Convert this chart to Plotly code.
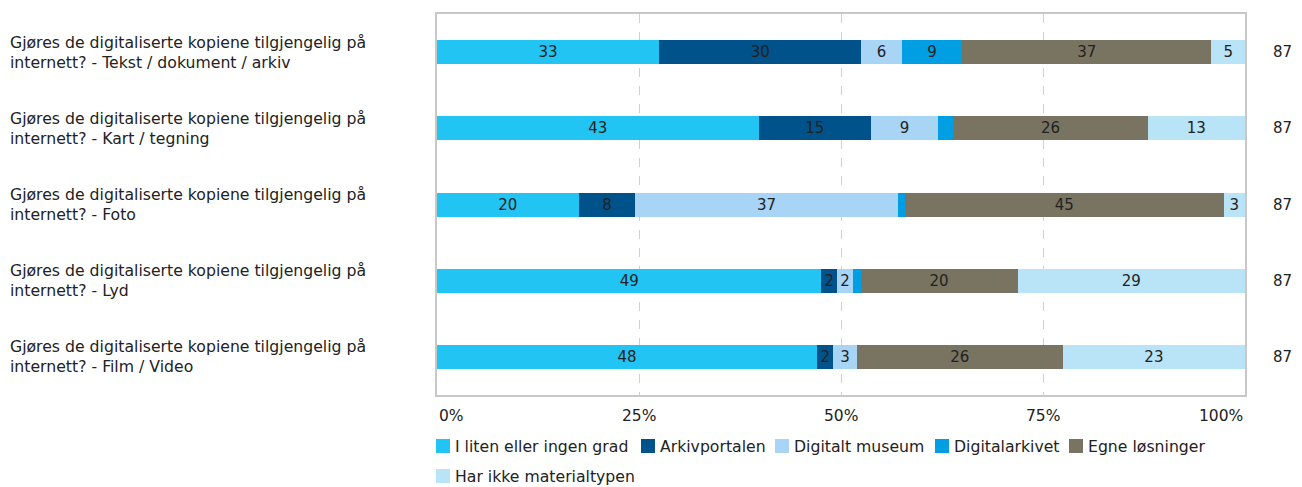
import plotly.graph_objects as go

# Spørsmål (y-kategorier)
questions = [
    'Gjøres de digitaliserte kopiene tilgjengelig på<br>internett? - Tekst / dokument / arkiv',
    'Gjøres de digitaliserte kopiene tilgjengelig på<br>internett? - Kart / tegning',
    'Gjøres de digitaliserte kopiene tilgjengelig på<br>internett? - Foto',
    'Gjøres de digitaliserte kopiene tilgjengelig på<br>internett? - Lyd',
    'Gjøres de digitaliserte kopiene tilgjengelig på<br>internett? - Film / Video',
]
keys = ['Tekst', 'Kart', 'Foto', 'Lyd', 'Film']

# Antall svar per alternativ
liten = [33, 43, 20, 49, 48]
arkivportalen = [30, 15, 8, 2, 2]
digitalt_museum = [6, 9, 37, 2, 3]
digitalarkivet = [9, 2, 1, 1, 0]
egne = [37, 26, 45, 20, 26]
har_ikke = [5, 13, 3, 29, 23]

n_total = [87, 87, 87, 87, 87]

tick_vals = [0, 0.25, 0.5, 0.75, 1]
tick_text = ['0%', '25%', '50%', '75%', '100%']

series = [
    ('I liten eller ingen grad', liten, '#21c4f3'),
    ('Arkivportalen', arkivportalen, '#00538a'),
    ('Digitalt museum', digitalt_museum, '#a8d4f5'),
    ('Digitalarkivet', digitalarkivet, '#009fe3'),
    ('Egne løsninger', egne, '#787461'),
    ('Har ikke materialtypen', har_ikke, '#b9e4f8'),
]

font = 'DejaVu Sans'
txt_col = '#222222'

# siden har 8px body-marg, så figuren tegnes forskjøvet
OFF = 8
FW, FH = 1302 - OFF, 487 - OFF
# plot-område i sidepiksler
L, T, W, H = 437, 14, 808, 381


def px(xp):
    return (xp - L) / W


def py(yp):
    return (T + H - yp) / H


row_sums = [sum(s[1][i] for s in series) for i in range(len(keys))]

fig = go.Figure()
for name, vals, color in series:
    # små segmenter får ikke etikett
    labels = [str(v) if v / row_sums[i] >= 0.019 else '' for i, v in enumerate(vals)]
    fig.add_trace(go.Bar(
        name=name,
        y=keys,
        x=vals,
        orientation='h',
        marker=dict(color=color, line=dict(width=0)),
        text=labels,
        textposition='inside',
        insidetextanchor='middle',
        textangle=0,
        textfont=dict(family=font, size=15, color=txt_col),
        hoverinfo='skip',
        showlegend=False,
    ))

# Spørsmålstekst til venstre (venstrejustert)
for k, q in zip(keys, questions):
    fig.add_annotation(
        x=px(8), y=k, xref='paper', yref='y',
        text=q, showarrow=False, xanchor='left', align='left',
        font=dict(family=font, size=15.7, color=txt_col),
    )

# N til høyre
for k, n in zip(keys, n_total):
    fig.add_annotation(
        x=px(1271), y=k, xref='paper', yref='y',
        text=str(n), showarrow=False, xanchor='left',
        font=dict(family=font, size=15, color=txt_col),
    )

# x-etiketter: første venstrejustert, siste høyrejustert
for i, (tv, tt) in enumerate(zip(tick_vals, tick_text)):
    anchor = 'left' if i == 0 else ('right' if i == len(tick_vals) - 1 else 'center')
    fig.add_annotation(
        x=tv, y=py(416), xref='x', yref='paper',
        text=tt, showarrow=False, xanchor=anchor, yanchor='middle',
        font=dict(family=font, size=15.5, color=txt_col),
    )

# Tegnforklaring
legend_pos = [(436, 446), (641, 446), (775, 446), (935, 446), (1069, 446), (436, 476)]
for (name, vals, color), (lx, ly) in zip(series, legend_pos):
    fig.add_shape(
        type='rect', xref='paper', yref='paper',
        x0=px(lx), x1=px(lx + 14), y0=py(ly - 7), y1=py(ly + 7),
        fillcolor=color, line=dict(width=0),
    )
    fig.add_annotation(
        x=px(lx + 17), y=py(ly), xref='paper', yref='paper',
        text=name, showarrow=False, xanchor='left', yanchor='middle',
        font=dict(family=font, size=15.7, color=txt_col),
    )

fig.update_layout(
    width=FW,
    height=FH,
    barmode='stack',
    barnorm='fraction',
    bargap=0.685,
    plot_bgcolor='white',
    paper_bgcolor='white',
    showlegend=False,
    margin=dict(l=L - OFF, r=1302 - L - W, t=T - OFF, b=487 - T - H, autoexpand=False),
    font=dict(family=font, size=15, color=txt_col),
    xaxis=dict(
        range=[0, 1],
        tickvals=tick_vals,
        showticklabels=False,
        showgrid=True,
        gridcolor='#d0d0d0',
        griddash='dash',
        showline=True,
        linecolor='#c8c8c8',
        linewidth=1.5,
        mirror=True,
        zeroline=False,
        ticks='',
    ),
    yaxis=dict(
        autorange='reversed',
        showticklabels=False,
        showgrid=False,
        showline=True,
        linecolor='#c8c8c8',
        linewidth=1.5,
        mirror=True,
        ticks='',
    ),
)

fig.write_html('out.html')
